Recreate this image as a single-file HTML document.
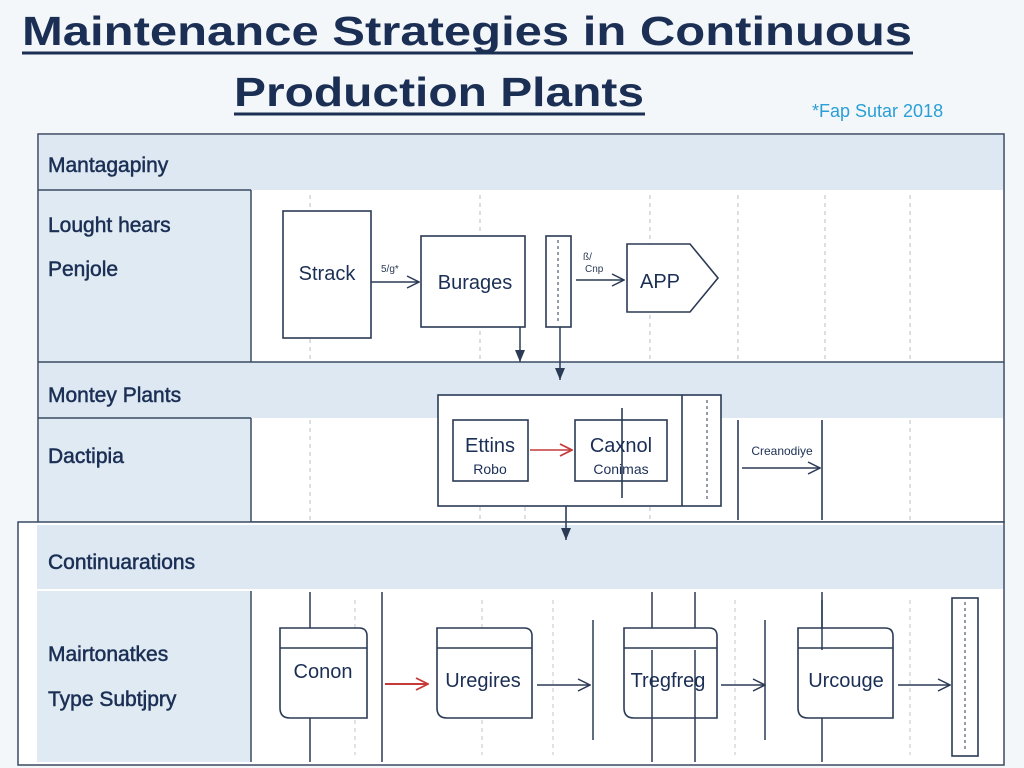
<!DOCTYPE html>
<html><head><meta charset="utf-8"><style>
html,body{margin:0;padding:0;background:#f4f7fa;}
svg{display:block;font-family:"Liberation Sans",sans-serif;}
</style></head><body>
<svg width="1024" height="768" viewBox="0 0 1024 768" xmlns="http://www.w3.org/2000/svg">
<defs>
<marker id="ar" markerWidth="14" markerHeight="14" refX="13" refY="7" orient="auto" markerUnits="userSpaceOnUse"><path d="M1,1 L13,7 L1,13" fill="none" stroke="#2b3a55" stroke-width="1.5"/></marker>
<marker id="tri" markerWidth="12" markerHeight="10" refX="12" refY="5" orient="auto" markerUnits="userSpaceOnUse"><path d="M0,0 L12,5 L0,10 Z" fill="#2b3a55"/></marker>
<marker id="rd" markerWidth="14" markerHeight="14" refX="13" refY="7" orient="auto" markerUnits="userSpaceOnUse"><path d="M1,1 L13,7 L1,13" fill="none" stroke="#c63a3a" stroke-width="1.8"/></marker>
</defs>
<rect width="1024" height="768" fill="#f4f7fa"/>
<g fill="#1b2f55" font-weight="bold" font-size="41">
<text x="22" y="45" textLength="890" lengthAdjust="spacingAndGlyphs">Maintenance  Strategies in Continuous</text>
<text x="234" y="106" textLength="410" lengthAdjust="spacingAndGlyphs">Production Plants</text>
</g>
<line x1="22" y1="53" x2="913" y2="53" stroke="#1b2f55" stroke-width="3"/>
<line x1="234" y1="114" x2="645" y2="114" stroke="#1b2f55" stroke-width="3"/>
<text x="812" y="117" font-size="18" fill="#2a9fd6">*Fap Sutar 2018</text>

<rect x="38" y="134" width="966" height="388" fill="#fff" stroke="#3a4a63" stroke-width="1.5"/>
<rect x="39" y="135" width="964" height="55" fill="#dde8f2"/>
<rect x="39" y="190" width="212" height="172" fill="#e0eaf3"/>
<rect x="39" y="362" width="964" height="56" fill="#dde8f2"/>
<rect x="39" y="418" width="212" height="104" fill="#e0eaf3"/>
<g stroke="#3a4a63" stroke-width="1.5" fill="none">
<line x1="38" y1="190" x2="251" y2="190"/>
<line x1="251" y1="190" x2="251" y2="362"/>
<line x1="38" y1="362" x2="1004" y2="362"/>
<line x1="38" y1="418" x2="251" y2="418"/>
<line x1="251" y1="418" x2="251" y2="522"/>
</g>
<g stroke="#b8bec8" stroke-width="1" stroke-dasharray="4,4">
<line x1="310" y1="195" x2="310" y2="360"/><line x1="480" y1="195" x2="480" y2="360"/>
<line x1="650" y1="195" x2="650" y2="360"/><line x1="738" y1="195" x2="738" y2="360"/>
<line x1="825" y1="195" x2="825" y2="360"/><line x1="910" y1="195" x2="910" y2="360"/>
<line x1="310" y1="420" x2="310" y2="520"/><line x1="480" y1="395" x2="480" y2="520"/>
<line x1="525" y1="395" x2="525" y2="520"/><line x1="650" y1="395" x2="650" y2="520"/>
<line x1="910" y1="420" x2="910" y2="520"/>
</g>
<g fill="#1b2f55" font-size="21" stroke="#1b2f55" stroke-width="0.5">
<text x="48" y="172">Mantagapiny</text>
<text x="48" y="232">Lought hears</text>
<text x="48" y="276">Penjole</text>
<text x="48" y="402">Montey Plants</text>
<text x="48" y="463">Dactipia</text>
</g>
<g stroke="#2b3a55" stroke-width="1.6" fill="#fff">
<rect x="283" y="211" width="88" height="127"/>
<rect x="421" y="236" width="104" height="91"/>
<rect x="546" y="236" width="25" height="91"/>
<path d="M627,244 L690,244 L718,278 L690,312 L627,312 Z"/>
</g>
<line x1="558" y1="240" x2="558" y2="323" stroke="#2b3a55" stroke-dasharray="3,3"/>
<g fill="#1b2f55" font-size="20">
<text x="327" y="280" text-anchor="middle">Strack</text>
<text x="475" y="289" text-anchor="middle">Burages</text>
<text x="660" y="288" text-anchor="middle">APP</text>
</g>
<g stroke="#2b3a55" stroke-width="1.5" fill="none">
<line x1="371" y1="282" x2="419" y2="282" marker-end="url(#ar)"/>
<line x1="576" y1="280" x2="624" y2="280" marker-end="url(#ar)"/>
<line x1="520" y1="327" x2="520" y2="362" marker-end="url(#tri)"/>
<line x1="560" y1="327" x2="560" y2="380" marker-end="url(#tri)"/>
</g>
<text x="381" y="272" font-size="10" fill="#2b3a55">5/g*</text>
<text x="583" y="260" font-size="10" fill="#2b3a55">ß/</text>
<text x="585" y="272" font-size="10" fill="#2b3a55">Cnp</text>
<g stroke="#2b3a55" stroke-width="1.6" fill="none">
<rect x="438" y="395" width="283" height="111" fill="#fff"/>
<line x1="682" y1="395" x2="682" y2="506"/>
<rect x="453" y="420" width="75" height="61"/>
<rect x="575" y="420" width="92" height="61"/>
<line x1="622" y1="408" x2="622" y2="498"/>
<line x1="738" y1="420" x2="738" y2="520"/>
<line x1="822" y1="420" x2="822" y2="520"/>
<line x1="742" y1="468" x2="820" y2="468" marker-end="url(#ar)"/>
<line x1="566" y1="506" x2="566" y2="540" marker-end="url(#tri)"/>
</g>
<line x1="707" y1="400" x2="707" y2="502" stroke="#2b3a55" stroke-dasharray="3,3"/>
<line x1="530" y1="450" x2="572" y2="450" stroke="#c63a3a" stroke-width="1.6" marker-end="url(#rd)"/>
<g fill="#1b2f55" text-anchor="middle">
<text x="490" y="452" font-size="20">Ettins</text>
<text x="490" y="474" font-size="14">Robo</text>
<text x="621" y="452" font-size="20">Caxnol</text>
<text x="621" y="474" font-size="14">Conimas</text>
<text x="782" y="455" font-size="12">Creanodiye</text>
</g>
<rect x="18" y="522" width="986" height="243" fill="#fff" stroke="#3a4a63" stroke-width="1.5"/>
<rect x="37" y="525" width="966" height="65" fill="#dde8f2"/>
<rect x="37" y="590" width="214" height="172" fill="#e0eaf3"/>
<line x1="251" y1="590" x2="251" y2="762" stroke="#3a4a63" stroke-width="1.5"/>
<line x1="37" y1="590" x2="1003" y2="590" stroke="#fff" stroke-width="2"/>
<line x1="566" y1="522" x2="566" y2="540" stroke="#2b3a55" stroke-width="1.5" marker-end="url(#tri)"/>
<g fill="#1b2f55" font-size="21" stroke="#1b2f55" stroke-width="0.5">
<text x="48" y="569">Continuarations</text>
<text x="48" y="661">Mairtonatkes</text>
<text x="48" y="706">Type Subtjpry</text>
</g>
<g stroke="#c0c6cf" stroke-width="1" stroke-dasharray="4,4">
<line x1="355" y1="600" x2="355" y2="755"/><line x1="482" y1="600" x2="482" y2="755"/>
<line x1="553" y1="600" x2="553" y2="755"/><line x1="735" y1="600" x2="735" y2="755"/>
<line x1="910" y1="600" x2="910" y2="755"/>
</g>
<g stroke="#2b3a55" stroke-width="1.5" fill="none">
<line x1="310" y1="592" x2="310" y2="762"/>
<line x1="382" y1="592" x2="382" y2="762"/>
<line x1="593" y1="620" x2="593" y2="740"/>
<line x1="652" y1="592" x2="652" y2="762"/>
<line x1="695" y1="592" x2="695" y2="762"/>
<line x1="765" y1="620" x2="765" y2="740"/>
<line x1="822" y1="592" x2="822" y2="762"/>
</g>
<g stroke="#2b3a55" stroke-width="1.6" fill="#fff">
<path d="M280,628 H359 Q367,628 367,636 V718 H290 Q280,718 280,708 Z"/>
<path d="M437,628 H524 Q532,628 532,636 V718 H447 Q437,718 437,708 Z"/>
<path d="M624,628 H709 Q717,628 717,636 V718 H634 Q624,718 624,708 Z"/>
<path d="M798,628 H885 Q893,628 893,636 V718 H808 Q798,718 798,708 Z"/>
<line x1="280" y1="648" x2="367" y2="648"/>
<line x1="437" y1="648" x2="532" y2="648"/>
<line x1="624" y1="648" x2="717" y2="648"/>
<line x1="798" y1="648" x2="893" y2="648"/>
<rect x="952" y="598" width="26" height="158"/>
</g>
<g stroke="#2b3a55" stroke-width="1.5">
<line x1="652" y1="650" x2="652" y2="718"/><line x1="695" y1="650" x2="695" y2="718"/>
<line x1="822" y1="600" x2="822" y2="650"/>
</g>
<line x1="965" y1="602" x2="965" y2="752" stroke="#2b3a55" stroke-dasharray="3,3"/>
<g fill="#1b2f55" font-size="20" text-anchor="middle">
<text x="323" y="678">Conon</text>
<text x="483" y="687">Uregires</text>
<text x="668" y="687">Tregfreg</text>
<text x="846" y="687">Urcouge</text>
</g>
<line x1="385" y1="684" x2="428" y2="684" stroke="#c63a3a" stroke-width="2" marker-end="url(#rd)"/>
<g stroke="#2b3a55" stroke-width="1.5">
<line x1="537" y1="685" x2="590" y2="685" marker-end="url(#ar)"/>
<line x1="721" y1="685" x2="765" y2="685" marker-end="url(#ar)"/>
<line x1="898" y1="685" x2="950" y2="685" marker-end="url(#ar)"/>
</g>
</svg>
</body></html>
